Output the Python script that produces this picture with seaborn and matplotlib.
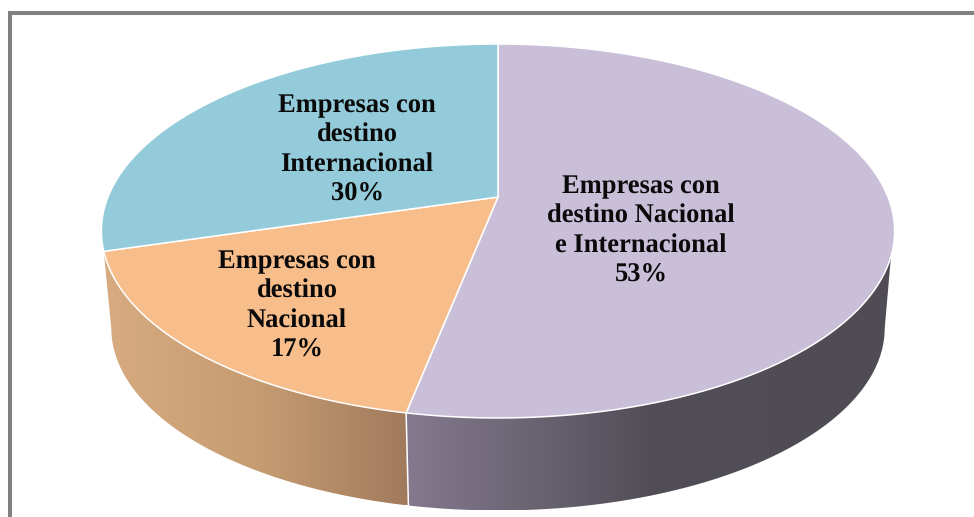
"""
3D style pie chart of companies by destination market.
"""

import numpy as np
import seaborn as sns
import matplotlib
matplotlib.use("Agg")
import matplotlib.pyplot as plt
from matplotlib.colors import LinearSegmentedColormap
from matplotlib.patches import Polygon

# chart data, clockwise from the top of the pie
categories = ["Empresas con\ndestino Nacional\ne Internacional",
              "Empresas con\ndestino\nNacional",
              "Empresas con\ndestino\nInternacional"]
values = [53.1, 17.3, 29.6]

top_colors = ["#C9BFD9", "#F7BD8B", "#93CBDA"]
wall_colors = [["#84798E", "#6B6573", "#524E57", "#514D56", "#504C55"],
               ["#D8AB80", "#C69C72", "#A07A5C"]]
label_pos = [(641, 231), (297, 306), (357, 150)]

sns.set_theme(style="white")
plt.rcParams["font.family"] = ["Liberation Serif"]
plt.rcParams["text.hinting"] = "none"


def project(angle, x0=498, y0=197, scale=1.0):
    """ Puts a clockwise angle (degrees from the top) of the round pie
    on the picture, the far side of the disc being drawn smaller.
    """
    rad = np.radians(angle)
    w = 1 + 0.1818 * np.cos(rad)
    x = x0 + scale * 390 * np.sin(rad) / w
    y = y0 - scale * 180.8 * np.cos(rad) / w
    return x, y


def draw_wall(ax, top_range, low_range, colors):
    """ Draws the side of a slice, from an arc of the top disc to an arc
    of the bottom disc, shaded left to right by a clipped gradient.
    """
    top_x, top_y = project(np.linspace(*top_range, 120))
    low_x, low_y = project(np.linspace(*low_range, 120), y0=295, scale=0.975)
    points = np.column_stack([np.r_[top_x, low_x[::-1]],
                              np.r_[top_y, low_y[::-1]]])
    shape = Polygon(points, transform=ax.transData, facecolor="none",
                    edgecolor="none")
    ax.add_patch(shape)
    cmap = LinearSegmentedColormap.from_list("wall", colors)
    left, right = points[:, 0].min(), points[:, 0].max()
    image = ax.imshow(np.linspace(0, 1, 256).reshape(1, -1), cmap=cmap,
                      extent=[left, right, points[:, 1].max(),
                              points[:, 1].min()],
                      aspect="auto", zorder=1)
    image.set_clip_path(shape)


fig = plt.figure(figsize=(9.74, 5.17), dpi=100)
ax = fig.add_axes([0, 0, 1, 1])

# slice limits
edges = np.r_[0, np.cumsum(values)] * 360 / sum(values)

# side of the pie, only from where it can be seen
draw_wall(ax, (108, edges[1]), (100.6, edges[1]), wall_colors[0])
draw_wall(ax, (edges[1], edges[2]), (edges[1], 259.4), wall_colors[1])
top_x, top_y = project(edges[1])
low_x, low_y = project(edges[1], y0=295, scale=0.975)
ax.plot([top_x, low_x], [top_y, low_y], color="white", lw=1.1, zorder=2)

# top of the pie
for i in range(len(values)):
    x, y = project(np.linspace(edges[i], edges[i + 1], 200))
    ax.fill(np.r_[498, x], np.r_[197, y], facecolor=top_colors[i],
            edgecolor="white", linewidth=1.1, joinstyle="round", zorder=3)

# labels
for i in range(len(values)):
    ax.text(label_pos[i][0], label_pos[i][1],
            categories[i] + "\n" + str(round(values[i])) + "%",
            ha="center", va="center", fontsize=19.1, fontweight="bold",
            color="#0A0A0A", linespacing=1.27, zorder=4)

# picture frame, open on the other sides
ax.plot([10, 10, 974], [517, 13, 13], color="#808080", lw=2.9,
        solid_joinstyle="miter", zorder=5)

ax.set_xlim(0, 974)
ax.set_ylim(517, 0)
ax.axis("off")
fig.savefig("out.png", dpi=100, facecolor="white")
